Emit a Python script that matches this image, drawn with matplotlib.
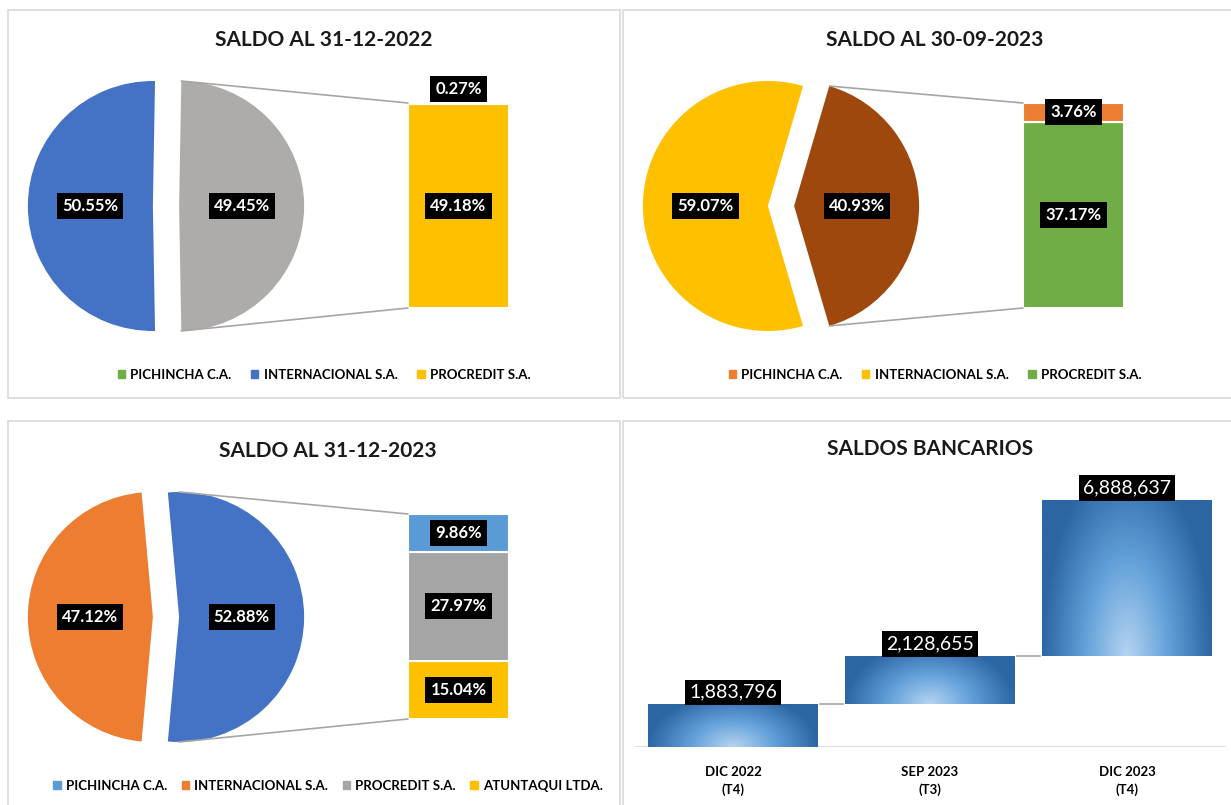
import numpy as np
import matplotlib.pyplot as plt
from matplotlib.patches import Rectangle, Patch, ConnectionPatch
from matplotlib.colors import LinearSegmentedColormap

plt.rcParams['font.family'] = ['Lato', 'DejaVu Sans']

# ---- data ----
titles = ['SALDO AL 31-12-2022', 'SALDO AL 30-09-2023', 'SALDO AL 31-12-2023']

# pie: [resto (bar), INTERNACIONAL]
pie_2022 = [49.45, 50.55]
pie_sep23 = [40.93, 59.07]
pie_2023 = [52.88, 47.12]

# bar of pie (top to bottom)
bar_names_2022 = ['PICHINCHA C.A.', 'PROCREDIT S.A.']
bar_2022 = [0.27, 49.18]
bar_names_sep23 = ['PICHINCHA C.A.', 'PROCREDIT S.A.']
bar_sep23 = [3.76, 37.17]
bar_names_2023 = ['PICHINCHA C.A.', 'PROCREDIT S.A.', 'ATUNTAQUI LTDA.']
bar_2023 = [9.86, 27.97, 15.04]

legend_2022 = ['PICHINCHA C.A.', 'INTERNACIONAL S.A.', 'PROCREDIT S.A.']
legend_sep23 = ['PICHINCHA C.A.', 'INTERNACIONAL S.A.', 'PROCREDIT S.A.']
legend_2023 = ['PICHINCHA C.A.', 'INTERNACIONAL S.A.', 'PROCREDIT S.A.', 'ATUNTAQUI LTDA.']

periodos = ['DIC 2022\n(T4)', 'SEP 2023\n(T3)', 'DIC 2023\n(T4)']
saldos = [1883796, 2128655, 6888637]

# colours
azul = '#4472C4'
gris_c = '#AEABAB'
amarillo = '#FFC000'
verde = '#70AD47'
naranja = '#ED7D31'
cafe = '#9E480E'
celeste = '#5B9BD5'
gris = '#A5A5A5'

W, H = 1231, 805
fig = plt.figure(figsize=(W / 100, H / 100), dpi=100)


def px_axes(x0, y0, x1, y1):
    return fig.add_axes([x0 / W, 1 - y1 / H, (x1 - x0) / W, (y1 - y0) / H])


def frame(x0, y0, x1, y1):
    fig.add_artist(Rectangle((x0 / W, 1 - y1 / H), (x1 - x0) / W, (y1 - y0) / H,
                             transform=fig.transFigure, fill=False,
                             ec='#d9d9d9', lw=1.2))


box = dict(boxstyle='square,pad=0.3', fc='black', ec='none')


def pie_panel(px, py, title, pie_vals, pie_cols, bar_vals, bar_cols,
              leg_names, leg_cols, tx=316, colsp=1.5):
    fig.text((px + tx) / W, 1 - (py + 30) / H, title, ha='center', va='center',
             fontsize=15, fontweight='bold', color='#1a1a1a')

    cx, cy = px + 158, py + 196
    ax = px_axes(cx - 150, cy - 150, cx + 150, cy + 150)
    other = pie_vals[0]
    wedges, _, autot = ax.pie(pie_vals, colors=pie_cols, startangle=-other * 1.8,
                              explode=[0.105, 0.105], autopct='%.2f%%',
                              pctdistance=0.5, radius=1,
                              wedgeprops=dict(linewidth=0))
    for t in autot:
        t.set(color='white', fontsize=12, fontweight='bold', bbox=box)
    ax.set_xlim(-1.2, 1.2)
    ax.set_ylim(-1.2, 1.2)
    ax.axis('off')

    axb = px_axes(px + 400, py + 93, px + 501, py + 298)
    total = sum(bar_vals)
    bottom = 0
    for i in range(len(bar_vals) - 1, -1, -1):
        v = bar_vals[i]
        axb.bar(0, v, bottom=bottom, width=1, color=bar_cols[i],
                edgecolor='white', linewidth=1.5)
        if v / total < 0.03:
            axb.annotate('%.2f%%' % v, (0, total), xytext=(0, 4),
                         textcoords='offset points', ha='center', va='bottom',
                         color='white', fontsize=12, fontweight='bold', bbox=box,
                         annotation_clip=False)
        else:
            axb.text(0, bottom + v / 2, '%.2f%%' % v, ha='center', va='center',
                     color='white', fontsize=12, fontweight='bold', bbox=box)
        bottom += v
    axb.set_xlim(-0.5, 0.5)
    axb.set_ylim(0, total)
    axb.axis('off')

    # connector lines pie -> bar
    w = wedges[0]
    ccx, ccy = w.center
    span = w.theta2 - w.theta1
    angs = [90, 270] if span > 180 else [w.theta2, w.theta1]
    ends = [(-0.5, total), (-0.5, 0)]
    for a, e in zip(angs, ends):
        p = (ccx + w.r * np.cos(np.radians(a)), ccy + w.r * np.sin(np.radians(a)))
        cp = ConnectionPatch(xyA=p, coordsA=ax.transData, xyB=e, coordsB=axb.transData,
                             color='#a6a6a6', lw=1.2)
        fig.add_artist(cp)

    handles = [Patch(color=c, label=n) for n, c in zip(leg_names, leg_cols)]
    fig.legend(handles=handles, loc='center', ncol=len(handles),
               bbox_to_anchor=((px + tx) / W, 1 - (py + 365) / H), frameon=False,
               handlelength=0.55, handleheight=0.55, handletextpad=0.4,
               columnspacing=colsp, prop=dict(weight='bold', size=9.5))


frame(8, 10, 620, 398)
frame(623, 10, 1240, 398)
frame(8, 421, 620, 815)
frame(623, 421, 1240, 815)

pie_panel(8, 10, titles[0], pie_2022, [gris_c, azul], bar_2022, [verde, amarillo],
          legend_2022, [verde, azul, amarillo])
pie_panel(623, 10, titles[1], pie_sep23, [cafe, amarillo], bar_sep23, [naranja, verde],
          legend_sep23, [naranja, amarillo, verde], tx=312)
pie_panel(8, 421, titles[2], pie_2023, [azul, naranja], bar_2023, [celeste, gris, amarillo],
          legend_2023, [celeste, naranja, gris, amarillo], tx=320, colsp=1.1)

# ---- waterfall ----
fig.text(930 / W, 1 - 449 / H, 'SALDOS BANCARIOS', ha='center', va='center',
         fontsize=15, fontweight='bold', color='#1a1a1a')

axw = px_axes(634.5, 470, 1225.5, 747)
ymax = 277 / 22.66 * 1e6

cmap = LinearSegmentedColormap.from_list('grad', ['#b6d4f0', '#62a0d9', '#2c66a3'])
u = np.linspace(-1, 1, 200)
vv = np.linspace(0, 1, 200)
U, V = np.meshgrid(u, vv)
grad = np.clip(np.sqrt(U ** 2 + (0.8 * V) ** 2), 0, 1)

bw = 0.86
bottoms = np.concatenate([[0], np.cumsum(saldos)[:-1]])
for i, (b, v) in enumerate(zip(bottoms, saldos)):
    bars = axw.bar(i, v, bottom=b, width=bw, color='none', linewidth=0)
    im = axw.imshow(grad, cmap=cmap, vmin=0, vmax=1, origin='lower', aspect='auto',
                    extent=(i - bw / 2, i + bw / 2, b, b + v), zorder=2)
    im.set_clip_path(bars[0])
    axw.annotate(f'{v:,}', (i, b + v), xytext=(0, 2.5), textcoords='offset points',
                 ha='center', va='bottom', color='white', fontsize=14,
                 bbox=dict(boxstyle='square,pad=0.22', fc='black', ec='none'), zorder=4)
    if i < len(saldos) - 1:
        axw.plot([i + bw / 2 + 0.01, i + 1 - bw / 2 - 0.01], [b + v, b + v],
                 color='#a6a6a6', lw=1.2, zorder=3)

axw.set_xlim(-0.5, 2.5)
axw.set_ylim(0, ymax)
axw.axhline(0, color='#d9d9d9', lw=1.2, zorder=1)
for s in axw.spines.values():
    s.set_visible(False)
axw.set_yticks([])
axw.set_xticks(range(len(periodos)))
axw.set_xticklabels(periodos, fontsize=9.5, fontweight='bold', linespacing=1.45)
axw.tick_params(axis='x', length=0, pad=14)

fig.savefig('out.png', dpi=100)
